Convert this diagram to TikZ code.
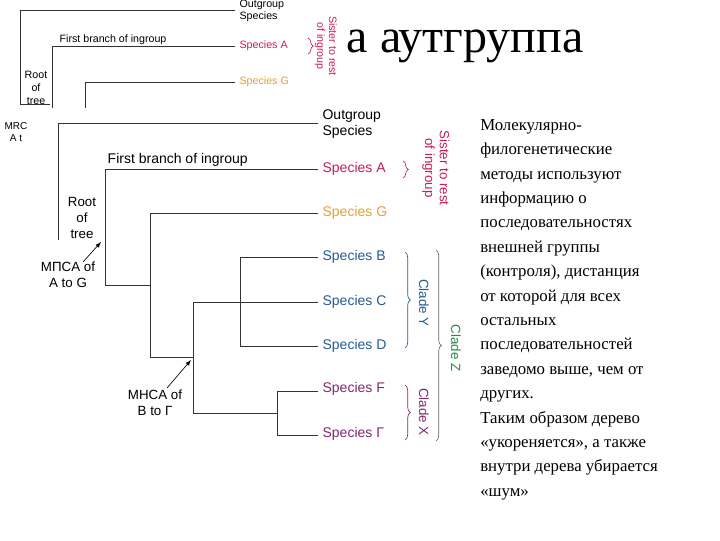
\documentclass[tikz,border=0pt]{standalone}
\usepackage{fontspec}
\setmainfont{Liberation Serif}
\newfontfamily\lab{Liberation Sans}
\usetikzlibrary{decorations.pathreplacing}
\definecolor{spA}{RGB}{200,30,80}
\definecolor{spG}{RGB}{230,160,50}
\definecolor{spB}{RGB}{40,90,150}
\definecolor{spE}{RGB}{130,40,110}
\definecolor{clZ}{RGB}{40,140,60}
\begin{document}
\begin{tikzpicture}[x=0.75pt,y=-0.75pt,
  br/.style={line width=0.6pt,black!80},
  sp/.style={font=\lab\fontsize{10.5}{11}\selectfont,anchor=west,inner sep=1pt},
  smsp/.style={font=\lab\fontsize{8}{9}\selectfont,anchor=west,inner sep=1pt,align=left},
  ann/.style={font=\lab\fontsize{10}{12}\selectfont,align=center,inner sep=0pt},
  brc/.style={decorate,decoration={brace,amplitude=4pt},line width=0.5pt},
  rot/.style={font=\lab\fontsize{10}{11}\selectfont,rotate=-90,align=center,inner sep=0pt}]
\useasboundingbox (0,0) rectangle (720,540);
\fill[white] (0,0) rectangle (720,540);
% background small tree
\draw[br] (235,10) -- (20,10) -- (20,104) -- (50,104);
\draw[br] (235,46) -- (52,46) -- (52,112);
\draw[br] (235,82) -- (85,82) -- (85,112);
\node[smsp] (so) at (238,11) {Outgroup\\Species};
\node[smsp,text=spA] (sa) at (238,46) {Species A};
\node[smsp,text=spG] (sg) at (238,82) {Species G};
\draw[spA,brc] (308,38) -- (308,54);
\node[font=\lab\fontsize{8}{9}\selectfont,rotate=-90,align=center,text=spA] (ss) at (326,46) {Sister to rest\\of ingroup};
\node[font=\lab\fontsize{8}{9.5}\selectfont,align=center] (rt) at (36,88) {Root\\of\\tree};
\node[font=\lab\fontsize{8}{9}\selectfont,anchor=west] (fb) at (55,40) {First branch of ingroup};
\node[font=\lab\fontsize{7.5}{9}\selectfont,align=center] (mr) at (16,132) {MRC\\A t};
\node[font=\fontsize{36}{36}\selectfont,anchor=west] (title) at (342,46) {а аутгруппа};
\fill[white] (33,108) rectangle (470,455);
% main tree
\draw[br] (318,123) -- (58,123) -- (58,240);
\draw[br] (318,169) -- (105,169) -- (105,285) -- (150,285);
\draw[br] (318,213) -- (150,213) -- (150,357) -- (193,357);
\draw[br] (318,302) -- (193,302) -- (193,413) -- (277,413);
\draw[br] (318,257) -- (240,257) -- (240,346) -- (318,346);
\draw[br] (318,391) -- (277,391) -- (277,435) -- (318,435);
\node[sp,align=left] (o) at (321,124) {Outgroup\\[1pt]Species};
\node[sp,text=spA] (a) at (321,169) {Species A};
\node[sp,text=spG] (g) at (321,213) {Species G};
\node[sp,text=spB] (b) at (321,257) {Species B};
\node[sp,text=spB] (c) at (321,302) {Species C};
\node[sp,text=spB] (d) at (321,346) {Species D};
\node[sp,text=spE] (e) at (321,389) {Species F};
\node[sp,text=spE] (f) at (321,434) {Species Г};
\node[font=\lab\fontsize{10.5}{11}\selectfont,anchor=west] (fbm) at (103,160) {First branch of ingroup};
\node[ann] (root) at (82,218) {Root\\of\\tree};
\node[ann] (m1) at (68,275) {MПCA of\\A to G};
\node[ann] (m2) at (155,403) {MHCA of\\B to Г};
\coordinate (t1) at (101,242);
\coordinate (t2) at (191,360);
\draw[-latex,line width=0.5pt] (83,262) -- (t1);
\draw[-latex,line width=0.5pt] (167,388) -- (t2);
\draw[spA,brc] (403,161) -- (403,178);
\node[rot,text=spA] (sis) at (436,168) {Sister to rest\\of ingroup};
\draw[spB,brc] (405,252) -- (405,348);
\node[rot,text=spB] (cy) at (424,303) {Clade Y};
\draw[spE,brc] (405,385) -- (405,440);
\node[rot,text=spE] (cx) at (424,412) {Clade X};
\draw[black!60,brc] (436,250) -- (436,441);
\node[rot,text=clZ] (cz) at (456,348) {Clade Z};
% right text
\node[anchor=north west,align=left,font=\fontsize{12.6}{18.3}\selectfont,inner sep=0pt] (txt) at (480,119) {Молекулярно-\\филогенетические\\методы используют\\информацию о\\последовательностях\\внешней группы\\(контроля), дистанция\\от которой для всех\\остальных\\последовательностей\\заведомо выше, чем от\\других.\\Таким образом дерево\\«укореняется», а также\\внутри дерева убирается\\«шум»};
\end{tikzpicture}
\end{document}
